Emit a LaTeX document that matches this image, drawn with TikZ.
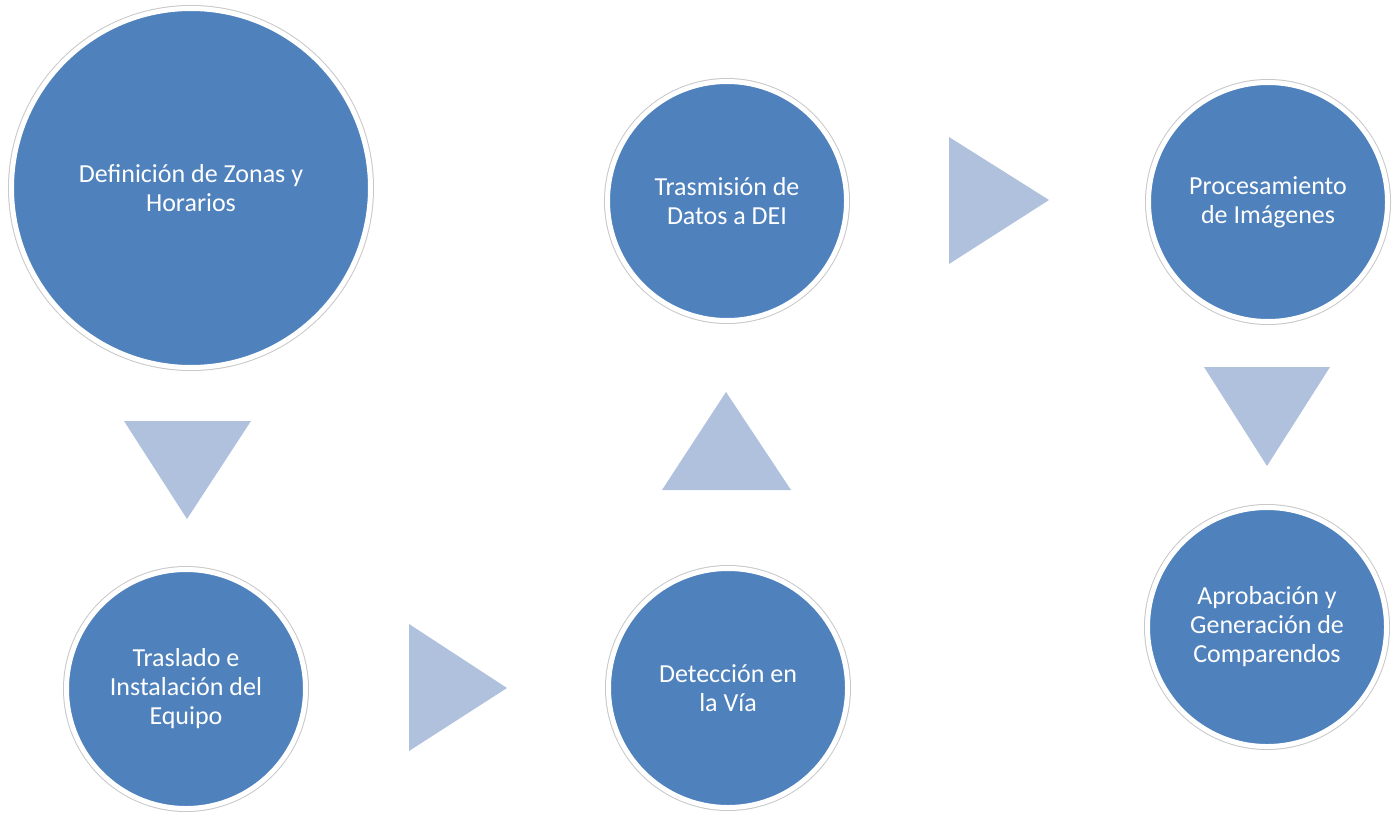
\documentclass[tikz,border=0pt]{standalone}
\usepackage{fontspec}
\setmainfont{Carlito}
\definecolor{circblue}{HTML}{4F81BD}
\definecolor{tribl}{HTML}{AFC1DC}
\definecolor{ringgray}{HTML}{C8C8C8}
\begin{document}
\begin{tikzpicture}[x=1pt,y=-1pt,
  stepcirc/.style={circle, fill=circblue, draw=white, line width=5pt, inner sep=0pt,
    text=white, align=center, font=\fontsize{26}{29}\selectfont,
    preaction={draw=ringgray, line width=7pt}},
  small/.style={minimum size=239pt},
  big/.style={minimum size=359pt},
  tri/.style={fill=tribl, draw=none}]
\useasboundingbox (0,0) rectangle (1400,814);
\node[stepcirc,big]   (a) at (191,188)  {Definición de Zonas y\\Horarios};
\node[stepcirc,small] (b) at (186,689)  {Traslado e\\Instalación del\\Equipo};
\node[stepcirc,small] (c) at (728,688)  {Detección en\\la Vía};
\node[stepcirc,small] (d) at (727,201)  {Trasmisión de\\Datos a DEI};
\node[stepcirc,small] (e) at (1268,202) {Procesamiento\\de Imágenes};
\node[stepcirc,small] (f) at (1267,627) {Aprobación y\\Generación de\\Comparendos};
\coordinate (t1a) at (124,421); \coordinate (t1b) at (251,421); \coordinate (t1c) at (187,519);
\coordinate (t2a) at (409,624); \coordinate (t2b) at (409,751); \coordinate (t2c) at (507,688);
\coordinate (t3a) at (662,490); \coordinate (t3b) at (791,490); \coordinate (t3c) at (726,392);
\coordinate (t4a) at (949,137); \coordinate (t4b) at (949,264); \coordinate (t4c) at (1049,200);
\coordinate (t5a) at (1204,367); \coordinate (t5b) at (1330,367); \coordinate (t5c) at (1267,466);
\fill[tri] (t1a) -- (t1b) -- (t1c) -- cycle;
\fill[tri] (t2a) -- (t2b) -- (t2c) -- cycle;
\fill[tri] (t3a) -- (t3b) -- (t3c) -- cycle;
\fill[tri] (t4a) -- (t4b) -- (t4c) -- cycle;
\fill[tri] (t5a) -- (t5b) -- (t5c) -- cycle;
\end{tikzpicture}
\end{document}
